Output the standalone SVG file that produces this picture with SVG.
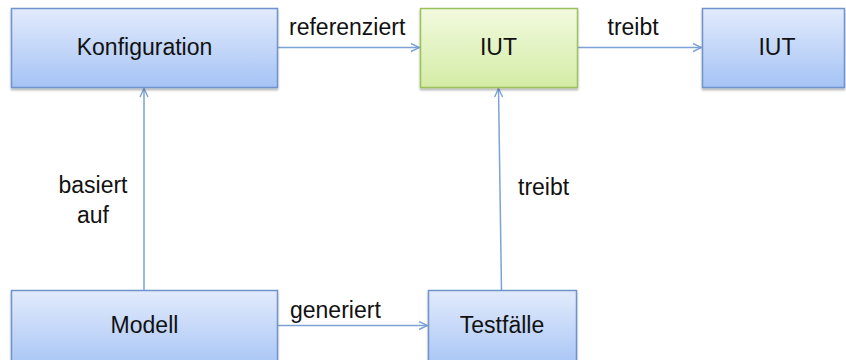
<svg xmlns="http://www.w3.org/2000/svg" width="846" height="360" viewBox="0 0 846 360">
  <defs>
    <linearGradient id="gBlue" x1="0" y1="0" x2="0" y2="1">
      <stop offset="0" stop-color="#e2ebfc"/>
      <stop offset="1" stop-color="#a5c3f5"/>
    </linearGradient>
    <linearGradient id="gGreen" x1="0" y1="0" x2="0" y2="1">
      <stop offset="0" stop-color="#f2fadf"/>
      <stop offset="1" stop-color="#d4eca6"/>
    </linearGradient>
    <filter id="sh" x="-5%" y="-5%" width="110%" height="115%">
      <feDropShadow dx="0" dy="2" stdDeviation="1.2" flood-color="#000" flood-opacity="0.3"/>
    </filter>
    <marker id="arr" viewBox="0 0 10 10" refX="9.5" refY="5" markerWidth="10" markerHeight="10" markerUnits="userSpaceOnUse" orient="auto">
      <path d="M1,1 L9.5,5 L1,9" fill="none" stroke="#7ea2d6" stroke-width="1.4"/>
    </marker>
  </defs>
  <style>
    .blue { fill: url(#gBlue); stroke: #6f93cc; stroke-width: 1.5; filter: url(#sh); }
    .green { fill: url(#gGreen); stroke: #9cc05c; stroke-width: 1.5; filter: url(#sh); }
    .t { font-family: "Liberation Sans", Arial, sans-serif; font-size: 23px; fill: #111; text-anchor: middle; }
    .lbl { font-family: "Liberation Sans", Arial, sans-serif; font-size: 23px; fill: #111; }
    .c { fill: none; stroke: #7ea2d6; stroke-width: 1.5; marker-end: url(#arr); }
  </style>
  <rect width="846" height="360" fill="#ffffff"/>

  <g id="connectors">
    <line class="c" x1="277.5" y1="47.5" x2="419.5" y2="47.5"/>
    <line class="c" x1="577.5" y1="47.5" x2="701.5" y2="47.5"/>
    <line class="c" x1="144" y1="290.5" x2="144" y2="88.5"/>
    <line class="c" x1="501.5" y1="290.5" x2="498.5" y2="88.5"/>
    <line class="c" x1="277.5" y1="325.5" x2="427.5" y2="325.5"/>
    <text class="lbl" x="289" y="35">referenziert</text>
    <text class="lbl" x="607.5" y="35">treibt</text>
    <text class="lbl" x="290" y="318">generiert</text>
    <text class="t" x="93" y="193">basiert</text>
    <text class="t" x="93" y="223">auf</text>
    <text class="lbl" x="518" y="195">treibt</text>
  </g>

  <g id="konfiguration">
    <rect class="blue" x="11.5" y="8.5" width="266" height="79"/>
    <text class="t" x="144.5" y="55">Konfiguration</text>
  </g>
  <g id="iut-sut">
    <rect class="green" x="420.5" y="8.5" width="157" height="79"/>
    <text class="t" x="498.5" y="55">IUT</text>
  </g>
  <g id="iut">
    <rect class="blue" x="702.5" y="8.5" width="142" height="79"/>
    <text class="t" x="777" y="55">IUT</text>
  </g>
  <g id="modell">
    <rect class="blue" x="11.5" y="290.5" width="266" height="80"/>
    <text class="t" x="144.5" y="333">Modell</text>
  </g>
  <g id="testfaelle">
    <rect class="blue" x="428.5" y="290.5" width="148" height="80"/>
    <text class="t" x="502" y="333">Testfälle</text>
  </g>
</svg>
